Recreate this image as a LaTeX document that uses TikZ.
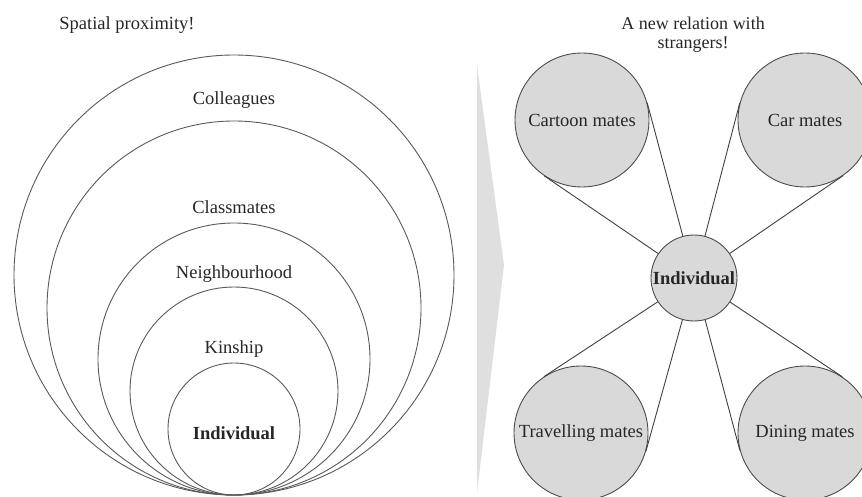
\documentclass[tikz,border=0pt]{standalone}
\usepackage{fontspec}
\setmainfont{Liberation Serif}
\usetikzlibrary{calc}

\tikzset{
	ring/.style = {draw = black!65, line width = 0.9},
	mate/.style = {circle, draw = black!70, line width = 0.9, fill = gray!30, minimum size = 134, inner sep = 0},
	link/.style = {draw = black!75, line width = 0.9}
}

\begin{document}
\begin{tikzpicture}[x = 1pt, y = -1pt, font = \fontsize{18.5}{16}\selectfont, text = black!85]

	\useasboundingbox (0, 0) rectangle (862, 497);

	% Definitions

	\def\bx{234}	% Common touching point of the rings
	\def\by{495}

	% Rings of spatial proximity

	\foreach \r/\name/\ly in {220/Colleagues/100, 187/Classmates/207, 136/Neighbourhood/274, 104/Kinship/349} {
		\draw [ring] (\bx, \by - \r) circle [radius = \r];
		\node (\name) at (\bx, \ly) {\name};
	}

	\draw [ring] (\bx, \by - 66) circle [radius = 66];
	\node [font = \fontsize{18.5}{16}\selectfont\bfseries] (self) at (\bx, 433) {Individual};

	\node (spatial) at (127, 25) {Spatial proximity!};

	% Grey wedge between the two halves

	\fill [gray!25] (477, 65) -- (504, 265) -- (477, 493) -- cycle;

	% Relations with strangers

	\node [align = center, font = \fontsize{18}{19}\selectfont] (strangers) at (693, 35) {A new relation with\\strangers!};

	\node [mate] (cartoon) at (582, 120) {Cartoon mates};
	\node [mate] (car) at (805, 120) {Car mates};
	\node [mate] (travel) at (581, 433) {Travelling mates};
	\node [mate] (dining) at (805, 433) {Dining mates};

	\node [mate, minimum size = 86, font = \fontsize{18.5}{16}\selectfont\bfseries] (ind) at (694, 278) {Individual};

	% Tangent lines from the individual to each group

	\foreach \m in {cartoon, car, travel, dining} {
		\draw [link] (ind) -- (tangent cs: node = \m, point = {(ind)}, solution = 1);
		\draw [link] (ind) -- (tangent cs: node = \m, point = {(ind)}, solution = 2);
	}

\end{tikzpicture}
\end{document}
